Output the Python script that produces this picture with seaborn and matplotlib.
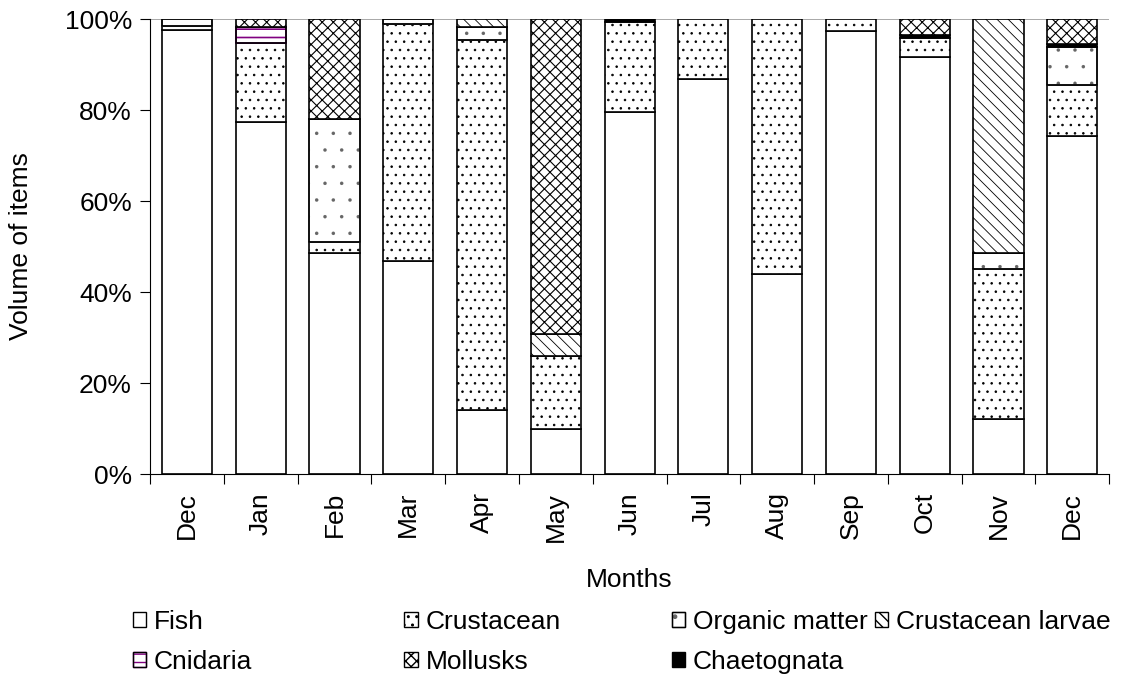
import matplotlib.pyplot as plt
import matplotlib.ticker as mticker
import numpy as np
import seaborn as sns
from matplotlib.patches import Patch, Rectangle

# diet composition per month (% of volume)
months = ['Dec', 'Jan', 'Feb', 'Mar', 'Apr', 'May', 'Jun',
          'Jul', 'Aug', 'Sep', 'Oct', 'Nov', 'Dec']
fish = [97.5, 77.4, 48.6, 46.8, 14.0, 10.0, 79.5, 86.8, 44.0, 97.4, 91.7, 12.0, 74.3]
crustacean = [1.0, 17.3, 2.4, 52.0, 81.5, 15.9, 19.8, 13.2, 56.0, 2.6, 4.1, 33.0, 11.2]
organic = [1.5, 0, 27.0, 1.2, 2.8, 0, 0, 0, 0, 0, 0, 3.5, 8.3]
larvae = [0, 0, 0, 0, 1.7, 4.9, 0, 0, 0, 0, 0, 51.5, 0]
cnidaria = [0, 3.6, 0, 0, 0, 0, 0, 0, 0, 0, 0, 0, 0]
chaetognata = [0, 0, 0, 0, 0, 0, 0.7, 0, 0, 0, 0.6, 0, 0.8]
mollusks = [0, 1.7, 22.0, 0, 0, 69.2, 0, 0, 0, 0, 3.6, 0, 5.4]

sns.set_theme(style='white')
plt.rcParams['font.family'] = ['Liberation Sans', 'DejaVu Sans']
plt.rcParams.update({'text.color': 'black', 'axes.labelcolor': 'black',
                     'xtick.color': 'black', 'ytick.color': 'black'})

# (label, values, facecolor, hatch colour, hatch, hatch width) - bottom to top
layers = [
    ('Fish', fish, 'white', 'black', '', 0.6),
    ('Crustacean', crustacean, 'white', 'black', '..', 0.6),
    ('Organic matter', organic, 'white', '#666666', '.', 0.1),
    ('Crustacean larvae', larvae, 'white', 'black', '\\\\\\', 0.6),
    ('Cnidaria', cnidaria, 'white', '#800080', '--', 1.2),
    ('Chaetognata', chaetognata, 'black', 'black', '', 0.6),
    ('Mollusks', mollusks, 'white', 'black', 'xxx', 0.8),
]

fig = plt.figure(figsize=(11.33, 6.8), dpi=100)
ax = fig.add_axes([0.1324, 0.3029, 0.8466, 0.6691])

x = np.arange(len(months))
bottom = np.zeros(len(months))
handles = {}
for name, vals, fc, ec, hatch, hlw in layers:
    vals = np.array(vals) / 100
    n0 = len(ax.patches)
    with plt.rc_context({'hatch.linewidth': hlw}):
        sns.barplot(x=x, y=vals, bottom=bottom, orient='x', color=fc, saturation=1,
                    edgecolor=ec, hatch=hatch, linewidth=1.2, width=0.68,
                    errorbar=None, ax=ax)
        handle = Patch(facecolor=fc, edgecolor=ec, hatch=hatch, linewidth=1.0)
    for p in ax.patches[n0:]:
        if p.get_height() == 0:
            p.set_visible(False)
        elif ec != 'black':
            # keep outline black when the hatch is coloured
            ax.add_patch(Rectangle((p.get_x(), p.get_y()), p.get_width(), p.get_height(),
                                   fill=False, edgecolor='black', linewidth=1.2))
    if ec != 'black':
        handle = (handle, Patch(fill=False, edgecolor='black', linewidth=1.0))
    handles[name] = handle
    bottom += vals

ax.set_xlim(-0.5, len(months) - 0.5)
ax.set_ylim(0, 1)
ax.yaxis.set_major_locator(mticker.MultipleLocator(0.2))
ax.yaxis.set_major_formatter(mticker.PercentFormatter(1.0, decimals=0))
ax.axhline(1.0, color='#999999', linewidth=1.2, zorder=0)

ax.set_xticks(x)
ax.set_xticklabels(months, rotation=90)
ax.set_xticks(np.arange(len(months) + 1) - 0.5, minor=True)
ax.tick_params(axis='x', which='major', length=0, pad=13, labelsize=19)
ax.tick_params(axis='x', which='minor', length=7, width=0.8, color='black', direction='out', bottom=True)
ax.tick_params(axis='y', length=7, width=0.8, color='black', direction='out', left=True, labelsize=19, pad=6)

sns.despine(ax=ax)
for s in ['left', 'bottom']:
    ax.spines[s].set_color('black')
    ax.spines[s].set_linewidth(0.8)

ax.set_xlabel('Months', fontsize=19, labelpad=19)
ax.set_ylabel('Volume of items', fontsize=19, labelpad=23)

# legend laid out in four columns like the original
columns = [(['Fish', 'Cnidaria'], 0.117),
           (['Crustacean', 'Mollusks'], 0.357),
           (['Organic matter', 'Chaetognata'], 0.593),
           (['Crustacean larvae'], 0.772)]
for names, xpos in columns:
    fig.legend(handles=[handles[n] for n in names], labels=names,
               loc='upper left', bbox_to_anchor=(xpos, 0.103), frameon=False,
               fontsize=19, handlelength=0.5, handleheight=0.5, handletextpad=0.3,
               labelspacing=0.62, borderpad=0, borderaxespad=0)

fig.savefig('out.png', dpi=100)
